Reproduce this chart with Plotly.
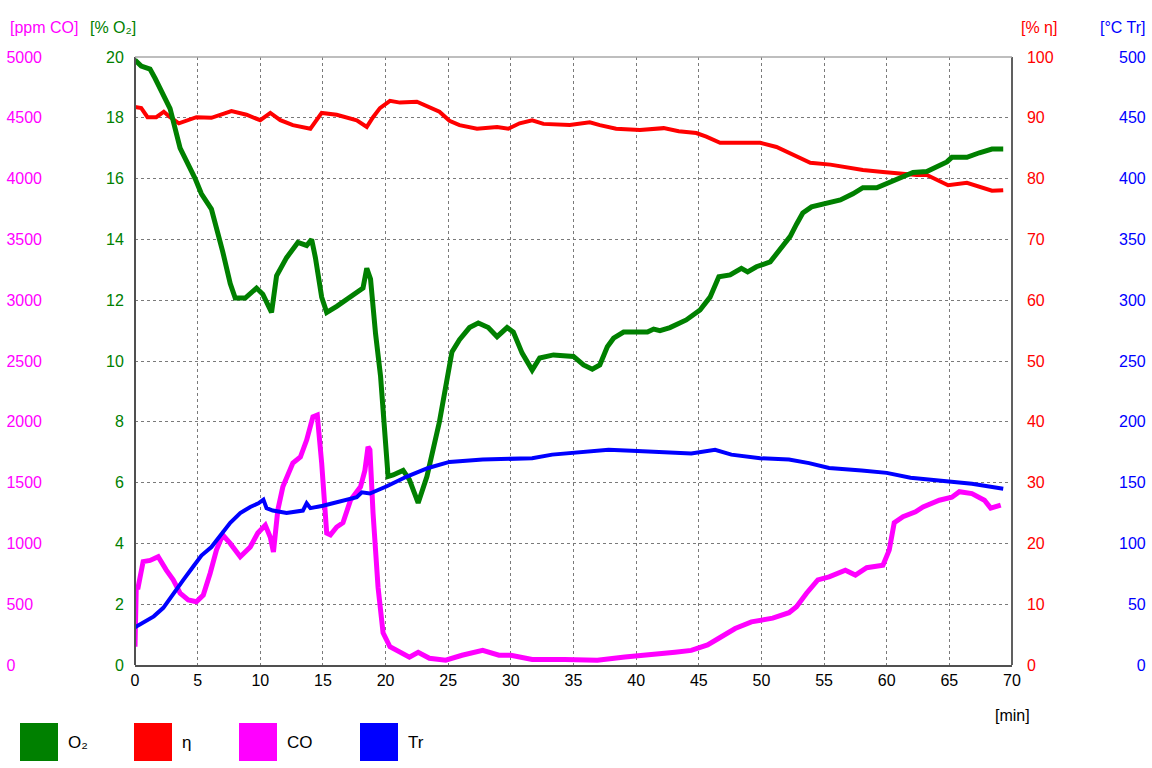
import plotly.graph_objects as go

W, H = 1152, 768
L, R, T, B = 135, 1012, 57, 665   # plot area in pixels

# ---- data ----
o2_t = [0, 0.5, 1.2, 1.6, 2.8, 3.6, 4.8, 5.3, 6.1, 6.6, 7.0, 7.6, 8.0, 8.8, 9.7, 10.2,
        10.9, 11.3, 12.1, 13.0, 13.7, 14.1, 14.4, 14.9, 15.3, 16.1, 17.2, 18.2, 18.5,
        18.8, 19.2, 19.6, 20.2, 20.6, 21.4, 21.9, 22.6, 23.3, 24.3, 24.9, 25.3, 25.9,
        26.7, 27.4, 28.2, 28.9, 29.7, 30.2, 30.9, 31.7, 32.3, 33.4, 35.0, 35.8, 36.5,
        37.1, 37.7, 38.2, 39.0, 40.9, 41.4, 41.9, 42.7, 44.0, 45.1, 45.9, 46.6, 47.5,
        48.4, 48.9, 49.6, 50.7, 51.5, 52.3, 52.8, 53.3, 54.0, 55.2, 56.3, 57.3, 58.1,
        59.2, 60.3, 61.3, 62.1, 63.2, 64.0, 64.8, 65.2, 66.4, 67.4, 68.4, 69.3]
o2 = [19.9, 19.7, 19.6, 19.3, 18.3, 17.0, 16.0, 15.5, 15.0, 14.3, 13.6, 12.55, 12.07,
      12.07, 12.4, 12.2, 11.6, 12.8, 13.4, 13.9, 13.8, 14.0, 13.4, 12.1, 11.6, 11.8,
      12.1, 12.4, 13.05, 12.7, 10.9, 9.5, 6.2, 6.25, 6.4, 6.1, 5.33, 6.2, 8.0, 9.4,
      10.3, 10.7, 11.1, 11.25, 11.1, 10.8, 11.1, 10.95, 10.26, 9.7, 10.1, 10.2, 10.15,
      9.87, 9.73, 9.87, 10.47, 10.75, 10.95, 10.95, 11.05, 11.0, 11.1, 11.35, 11.68,
      12.1, 12.77, 12.83, 13.05, 12.93, 13.1, 13.26, 13.65, 14.1, 14.5, 14.87, 15.07,
      15.2, 15.3, 15.5, 15.7, 15.7, 15.9, 16.05, 16.2, 16.23, 16.4, 16.55, 16.7, 16.7,
      16.85, 16.97, 16.97]

eta_t = [0, 0.5, 1.0, 1.7, 2.3, 2.8, 3.5, 4.2, 4.9, 6.1, 7.7, 8.9, 10.0, 10.8, 11.6,
         12.6, 14.0, 14.9, 16.1, 17.7, 18.5, 19.0, 19.55, 20.35, 21.15, 22.5, 23.5,
         24.3, 25.1, 25.9, 27.3, 28.9, 29.8, 30.7, 31.7, 32.6, 34.7, 36.3, 37.1, 38.4,
         40.3, 42.2, 43.4, 44.8, 45.6, 46.7, 48.3, 49.9, 51.2, 52.5, 53.9, 55.5, 56.8,
         58.1, 59.7, 61.1, 62.4, 63.2, 64.0, 64.9, 66.4, 67.4, 68.4, 69.3]
eta = [91.8, 91.6, 90.1, 90.1, 91.0, 90.1, 89.1, 89.6, 90.1, 90.0, 91.1, 90.5, 89.6,
       90.8, 89.6, 88.8, 88.2, 90.8, 90.5, 89.6, 88.5, 90.1, 91.6, 92.8, 92.5, 92.65,
       91.8, 91.0, 89.5, 88.8, 88.2, 88.5, 88.2, 89.1, 89.6, 89.0, 88.8, 89.25, 88.8,
       88.2, 88.0, 88.3, 87.8, 87.5, 86.9, 85.9, 85.9, 85.9, 85.2, 83.9, 82.6, 82.3,
       81.9, 81.4, 81.1, 80.8, 80.6, 80.6, 79.8, 78.9, 79.3, 78.6, 78.0, 78.1]

co_t = [0, 0.1, 0.25, 0.65, 1.2, 1.85, 2.5, 3.05, 3.6, 4.25, 4.9, 5.45, 6.0, 6.5, 7.0,
        7.6, 8.4, 9.2, 9.8, 10.4, 10.8, 11.05, 11.4, 11.8, 12.6, 13.2, 13.7, 14.2,
        14.55, 14.9, 15.3, 15.6, 16.1, 16.6, 17.2, 18.0, 18.35, 18.6, 18.75, 19.0,
        19.4, 19.8, 20.35, 21.15, 21.9, 22.6, 23.5, 24.8, 26.1, 27.75, 29.05, 30.0,
        31.7, 34.3, 36.9, 39.1, 41.1, 43.1, 44.4, 45.7, 46.6, 47.9, 49.2, 50.9, 52.2,
        52.8, 53.6, 54.5, 55.4, 56.7, 57.5, 58.4, 59.7, 60.2, 60.6, 61.3, 62.3, 62.9,
        64.2, 65.2, 65.8, 66.8, 67.8, 68.3, 69.1]
co = [150, 640, 640, 850, 860, 890, 780, 700, 590, 535, 520, 575, 755, 945, 1070, 1000,
      890, 970, 1085, 1150, 1050, 930, 1275, 1465, 1660, 1710, 1850, 2040, 2055, 1660,
      1085, 1070, 1135, 1170, 1355, 1465, 1600, 1795, 1770, 1250, 640, 265, 150, 100,
      65, 105, 55, 40, 80, 120, 80, 80, 45, 45, 40, 65, 80, 105, 120, 165, 220, 300,
      355, 385, 430, 480, 590, 700, 725, 780, 740, 800, 820, 945, 1170, 1220, 1260,
      1300, 1355, 1380, 1425, 1410, 1355, 1290, 1315]

tr_t = [0, 0.67, 1.5, 2.26, 3.06, 3.86, 4.65, 5.3, 6.1, 6.9, 7.6, 8.4, 9.2, 9.85, 10.25,
        10.5, 11.0, 12.1, 13.4, 13.7, 14.0, 15.0, 16.4, 17.7, 18.1, 18.75, 20.1, 21.7,
        23.4, 25.1, 27.75, 30.0, 31.7, 33.3, 35.2, 37.8, 40.1, 42.4, 44.4, 46.3, 47.6,
        49.9, 52.2, 53.8, 55.4, 58.0, 60.0, 61.9, 64.5, 66.8, 69.3]
tr = [31, 35, 40, 47, 59, 70, 81, 90, 97, 108, 117, 125, 130, 133, 136, 129, 127, 125,
      127, 133, 129, 131, 135, 138, 142, 141, 147, 155, 162, 167, 169, 170, 170, 173,
      175, 177, 176, 175, 174, 177, 173, 170, 169, 166, 162, 160, 158, 154, 151, 149,
      145]

x_ticks = list(range(0, 75, 5))
co_ticks = list(range(0, 5500, 500))
tr_ticks = list(range(0, 550, 50))

GREEN, RED, MAGENTA, BLUE = "#008000", "#ff0000", "#ff00ff", "#0000ff"
FONT = "Liberation Sans, Arial, sans-serif"
FSP = "\u2007"  # figure space, same width as a digit


def px_x(p):
    return p / W


def px_y(p):
    return (B - p) / (B - T)


# left-aligned CO labels, right-aligned Tr labels
co_text = [str(v) + FSP * (4 - len(str(v))) for v in co_ticks]
tr_text = [FSP * (3 - len(str(v))) + str(v) for v in tr_ticks]

fig = go.Figure()
fig.add_trace(go.Scatter(x=co_t, y=co, mode="lines", name="CO", yaxis="y",
                         line=dict(color=MAGENTA, width=5)))
fig.add_trace(go.Scatter(x=eta_t, y=eta, mode="lines", name="η", yaxis="y2",
                         line=dict(color=RED, width=4)))
fig.add_trace(go.Scatter(x=o2_t, y=o2, mode="lines", name="O₂", yaxis="y3",
                         line=dict(color=GREEN, width=5)))
fig.add_trace(go.Scatter(x=tr_t, y=tr, mode="lines", name="Tr", yaxis="y4",
                         line=dict(color=BLUE, width=4)))

grid = dict(showgrid=True, gridcolor="#7a7a7a", griddash="3px,3px", gridwidth=1)
tickf = dict(family=FONT, size=16)

fig.update_layout(
    width=W, height=H,
    margin=dict(l=0, r=0, t=T, b=H - B, autoexpand=False),
    paper_bgcolor="white", plot_bgcolor="white",
    showlegend=False,
    xaxis=dict(domain=[px_x(L), px_x(R)], range=[0, 70], tickvals=x_ticks,
               ticks="", tickfont=dict(tickf, color="black"), showline=True,
               linecolor="#505050", linewidth=2, zeroline=False, **grid),
    yaxis=dict(range=[0, 5000], tickvals=co_ticks, ticktext=co_text, anchor="free",
               position=px_x(42), side="left", ticks="", ticklabelstandoff=0,
               tickfont=dict(tickf, color=MAGENTA), showgrid=False, zeroline=False,
               showline=False),
    yaxis2=dict(range=[0, 100], dtick=10, overlaying="y", anchor="free",
                position=px_x(R), side="right", ticks="", ticklabelstandoff=11,
                tickfont=dict(tickf, color=RED), showgrid=False, zeroline=False,
                showline=True, linecolor="#606060", linewidth=1.5),
    yaxis3=dict(range=[0, 20], dtick=2, overlaying="y", anchor="free",
                position=px_x(L), side="left", ticks="", ticklabelstandoff=7,
                tickfont=dict(tickf, color=GREEN), zeroline=False,
                showline=True, linecolor="#505050", linewidth=2, **grid),
    yaxis4=dict(range=[0, 500], tickvals=tr_ticks, ticktext=tr_text, overlaying="y",
                anchor="free", position=px_x(1118), side="right", ticks="",
                ticklabelstandoff=0, tickfont=dict(tickf, color=BLUE),
                showgrid=False, zeroline=False, showline=False),
)

# light top border of the frame
fig.add_shape(type="line", xref="paper", yref="paper", x0=px_x(L), x1=px_x(R),
              y0=1, y1=1, line=dict(color="#a8a8a8", width=1.5))

# axis titles placed horizontally above the axes
titles = [("[ppm CO]", 8, "left", MAGENTA), ("[% O₂]", 88, "left", GREEN),
          ("[% η]", 1019, "left", RED), ("[°C Tr]", 1148, "right", BLUE)]
for txt, xp, anc, col in titles:
    fig.add_annotation(text=txt, xref="paper", yref="paper", x=px_x(xp),
                       y=px_y(28), xanchor=anc, yanchor="middle", showarrow=False,
                       font=dict(family=FONT, size=16, color=col))

fig.add_annotation(text="[min]", xref="paper", yref="paper", x=px_x(1012),
                   y=px_y(715), xanchor="center", yanchor="middle", showarrow=False,
                   font=dict(family=FONT, size=16, color="black"))

# legend: big colour squares with labels
legend_items = [("O₂", GREEN, 20), ("η", RED, 134), ("CO", MAGENTA, 239), ("Tr", BLUE, 360)]
for name, col, x0 in legend_items:
    fig.add_shape(type="rect", xref="paper", yref="paper", x0=px_x(x0),
                  x1=px_x(x0 + 38), y0=px_y(723), y1=px_y(761),
                  fillcolor=col, line=dict(width=0))
    fig.add_annotation(text=name, xref="paper", yref="paper", x=px_x(x0 + 46),
                       y=px_y(742), xanchor="left", yanchor="middle", showarrow=False,
                       font=dict(family=FONT, size=17, color="black"))

fig.write_html("out.html", config={"displayModeBar": False},
               post_script="document.body.style.margin='0';")
